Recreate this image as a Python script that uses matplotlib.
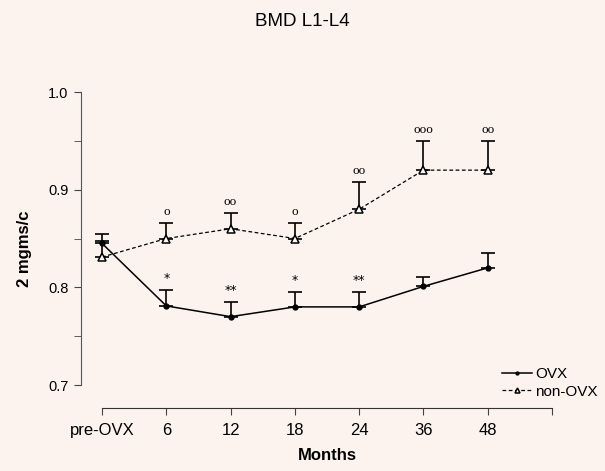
import matplotlib
matplotlib.use('Agg')
from matplotlib import pyplot as plt
from matplotlib.ticker import MultipleLocator

# categories and values
months = ['pre-OVX', '6', '12', '18', '24', '36', '48']
ovx_mean = [0.845, 0.781, 0.770, 0.780, 0.780, 0.801, 0.820]
ovx_sem = [0.010, 0.016, 0.015, 0.015, 0.015, 0.010, 0.015]
non_ovx_mean = [0.831, 0.850, 0.860, 0.850, 0.880, 0.920, 0.920]
non_ovx_sem = [0.016, 0.016, 0.016, 0.016, 0.028, 0.030, 0.030]
ovx_marks = ['', '*', '**', '*', '**', '', '']
non_ovx_marks = ['', 'o', 'oo', 'o', 'oo', 'ooo', 'oo']

BG = '#fcf3ef'
plt.rcParams['font.family'] = ['Liberation Sans', 'DejaVu Sans']

fig = plt.figure(figsize=(6.05, 4.71), dpi=100, facecolor=BG)
ax = fig.add_axes([81 / 605, 63 / 471, 509 / 605, 316 / 471])
ax.set_facecolor(BG)

x = list(range(len(months)))

# one sided (upward) error bars
ax.errorbar(x, non_ovx_mean, yerr=[[0] * len(x), non_ovx_sem], fmt='none',
            ecolor='black', elinewidth=1.2, capsize=5, capthick=1.2, zorder=2)
ax.errorbar(x, ovx_mean, yerr=[[0] * len(x), ovx_sem], fmt='none',
            ecolor='black', elinewidth=1.2, capsize=5, capthick=1.2, zorder=2)

ax.plot(x, non_ovx_mean, linestyle=(0, (3, 2)), color='black', linewidth=0.9,
        marker='^', markersize=6, markerfacecolor='white',
        markeredgecolor='black', markeredgewidth=1.1, label='non-OVX',
        zorder=3)
ax.plot(x, ovx_mean, linestyle='-', color='black', linewidth=1.1,
        marker='o', markersize=3.5, label='OVX', zorder=4)

# significance marks above the error bars
for xi, m, s, txt in zip(x, ovx_mean, ovx_sem, ovx_marks):
    if txt:
        ax.text(xi, m + s + 0.005, txt, ha='center', va='bottom',
                fontsize=9, family='DejaVu Sans')
for xi, m, s, txt in zip(x, non_ovx_mean, non_ovx_sem, non_ovx_marks):
    if txt:
        ax.text(xi, m + s + 0.006, txt, ha='center', va='bottom',
                fontsize=8, family='DejaVu Serif')

ax.set_ylim(0.6765, 1.0)
ax.set_xlim(-0.327, 7.59)
ax.yaxis.set_major_locator(MultipleLocator(0.1))
ax.yaxis.set_minor_locator(MultipleLocator(0.05))
ax.set_xticks(list(range(len(months) + 1)))
ax.set_xticklabels(months + [''])

for side in ('top', 'right'):
    ax.spines[side].set_visible(False)
ax.spines['left'].set_bounds(0.7, 1.0)
ax.spines['bottom'].set_bounds(0, 7)
ax.spines['left'].set_color('#555555')
ax.spines['bottom'].set_color('#333333')
ax.tick_params(axis='both', which='both', direction='out', length=5,
               color='#444444', pad=4)
ax.tick_params(axis='y', labelsize=10.5)
ax.tick_params(axis='x', labelsize=12, pad=6)
ax.set_yticklabels(['%.1f' % v for v in ax.get_yticks()])

fig.text(327 / 605, 1 - 455 / 471, 'Months', ha='center', va='center',
         fontsize=12, fontweight='bold')
fig.text(25 / 605, 1 - 249 / 471, '2 mgms/c', rotation=90, ha='center',
         va='center', fontsize=12, fontweight='bold')
fig.text(0.5, 1 - 22 / 471, 'BMD L1-L4', ha='center', va='center',
         fontsize=13.5)

handles, labels = ax.get_legend_handles_labels()
leg = ax.legend(handles[::-1], labels[::-1], loc='lower right',
                bbox_to_anchor=(1.0 + 14 / 509, 0.01), frameon=False,
                handlelength=2.0, handletextpad=0.2, labelspacing=0.25,
                fontsize=11, markerscale=0.6, borderaxespad=0)

fig.savefig('out.png', dpi=100, facecolor=BG)
